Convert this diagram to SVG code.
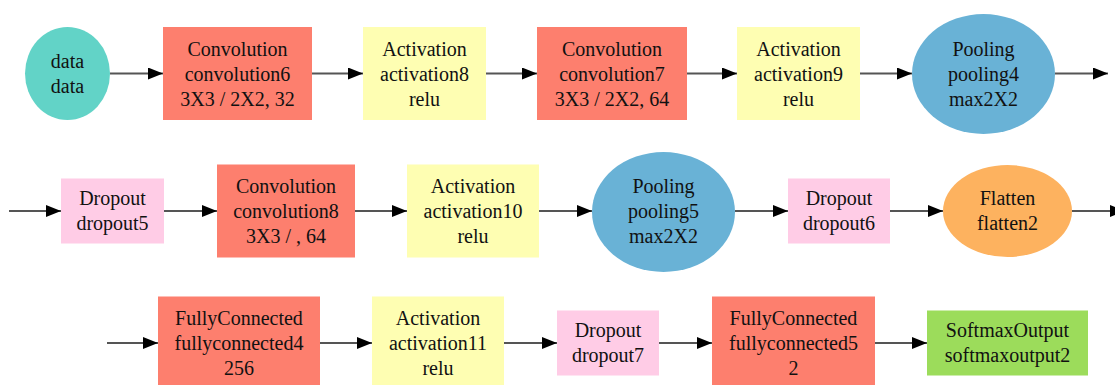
<svg xmlns="http://www.w3.org/2000/svg" width="1115" height="385" viewBox="0 0 1115 385">
<defs>
<marker id="ah" markerUnits="userSpaceOnUse" markerWidth="16" markerHeight="14" refX="15" refY="6" orient="auto">
<path d="M0,0 L15,6 L0,12 Z" fill="#000"/>
</marker>
<style>
.e line{stroke:#555;stroke-width:2;marker-end:url(#ah)}
.data{fill:#62d3c7}
.conv{fill:#fd7f6e}
.act{fill:#fefeb2}
.pool{fill:#69b2d6}
.drop{fill:#ffcce6}
.flat{fill:#fdb25f}
.soft{fill:#9cdc5b}
text{font-family:Liberation Serif, serif;font-size:20px;fill:#111;text-anchor:middle}
</style>
</defs>
<rect width="1115" height="385" fill="#fff"/>
<g id="edges" class="e">
<line x1="110" y1="73.5" x2="163" y2="73.5"/>
<line x1="312" y1="73.5" x2="363" y2="73.5"/>
<line x1="486" y1="73.5" x2="537" y2="73.5"/>
<line x1="687" y1="73.5" x2="737" y2="73.5"/>
<line x1="860" y1="73.5" x2="912" y2="73.5"/>
<line x1="1055" y1="73.5" x2="1108" y2="73.5"/>
<line x1="9" y1="211" x2="61" y2="211"/>
<line x1="164" y1="211" x2="217" y2="211"/>
<line x1="355" y1="211" x2="407" y2="211"/>
<line x1="539" y1="211" x2="592" y2="211"/>
<line x1="735" y1="211" x2="788" y2="211"/>
<line x1="890" y1="211" x2="943" y2="211"/>
<line x1="1072" y1="211" x2="1125" y2="211"/>
<line x1="107" y1="343" x2="158" y2="343"/>
<line x1="320" y1="343" x2="372" y2="343"/>
<line x1="504" y1="343" x2="557" y2="343"/>
<line x1="659" y1="343" x2="712" y2="343"/>
<line x1="875" y1="343" x2="927" y2="343"/>
</g>
<g id="data"><ellipse class="data" cx="67.5" cy="73.5" rx="42.5" ry="46.5"/><text x="67.5" y="67.5">data</text><text x="67.5" y="92.5">data</text></g>
<g id="convolution6"><rect class="conv" x="163" y="27" width="149" height="93"/><text x="237.5" y="55.5">Convolution</text><text x="237.5" y="80.5">convolution6</text><text x="237.5" y="105.5">3X3 / 2X2, 32</text></g>
<g id="activation8"><rect class="act" x="363" y="27" width="123" height="93"/><text x="424.5" y="55.5">Activation</text><text x="424.5" y="80.5">activation8</text><text x="424.5" y="105.5">relu</text></g>
<g id="convolution7"><rect class="conv" x="537" y="27" width="150" height="93"/><text x="612" y="55.5">Convolution</text><text x="612" y="80.5">convolution7</text><text x="612" y="105.5">3X3 / 2X2, 64</text></g>
<g id="activation9"><rect class="act" x="737" y="27" width="123" height="93"/><text x="798.5" y="55.5">Activation</text><text x="798.5" y="80.5">activation9</text><text x="798.5" y="105.5">relu</text></g>
<g id="pooling4"><ellipse class="pool" cx="983.5" cy="74" rx="71.5" ry="60"/><text x="983.5" y="55.5">Pooling</text><text x="983.5" y="80.5">pooling4</text><text x="983.5" y="105.5">max2X2</text></g>
<g id="dropout5"><rect class="drop" x="61" y="178.5" width="103" height="65"/><text x="112.5" y="204.5">Dropout</text><text x="112.5" y="229.5">dropout5</text></g>
<g id="convolution8"><rect class="conv" x="217" y="164.5" width="138" height="93"/><text x="286" y="193">Convolution</text><text x="286" y="218">convolution8</text><text x="286" y="243">3X3 / , 64</text></g>
<g id="activation10"><rect class="act" x="407" y="164.5" width="132" height="93"/><text x="473" y="193">Activation</text><text x="473" y="218">activation10</text><text x="473" y="243">relu</text></g>
<g id="pooling5"><ellipse class="pool" cx="663.5" cy="212" rx="71.5" ry="60"/><text x="663.5" y="193">Pooling</text><text x="663.5" y="218">pooling5</text><text x="663.5" y="243">max2X2</text></g>
<g id="dropout6"><rect class="drop" x="788" y="178.5" width="102" height="65"/><text x="839" y="204.5">Dropout</text><text x="839" y="229.5">dropout6</text></g>
<g id="flatten2"><ellipse class="flat" cx="1007.5" cy="211" rx="64.5" ry="46"/><text x="1007.5" y="204.5">Flatten</text><text x="1007.5" y="229.5">flatten2</text></g>
<g id="fullyconnected4"><rect class="conv" x="158" y="296.5" width="162" height="93"/><text x="239" y="325">FullyConnected</text><text x="239" y="350">fullyconnected4</text><text x="239" y="375">256</text></g>
<g id="activation11"><rect class="act" x="372" y="296.5" width="132" height="93"/><text x="438" y="325">Activation</text><text x="438" y="350">activation11</text><text x="438" y="375">relu</text></g>
<g id="dropout7"><rect class="drop" x="557" y="310.5" width="102" height="65"/><text x="608" y="336.5">Dropout</text><text x="608" y="361.5">dropout7</text></g>
<g id="fullyconnected5"><rect class="conv" x="712" y="296.5" width="163" height="93"/><text x="793.5" y="325">FullyConnected</text><text x="793.5" y="350">fullyconnected5</text><text x="793.5" y="375">2</text></g>
<g id="softmaxoutput2"><rect class="soft" x="927" y="310.5" width="161" height="65"/><text x="1007.5" y="336.5">SoftmaxOutput</text><text x="1007.5" y="361.5">softmaxoutput2</text></g>
</svg>
